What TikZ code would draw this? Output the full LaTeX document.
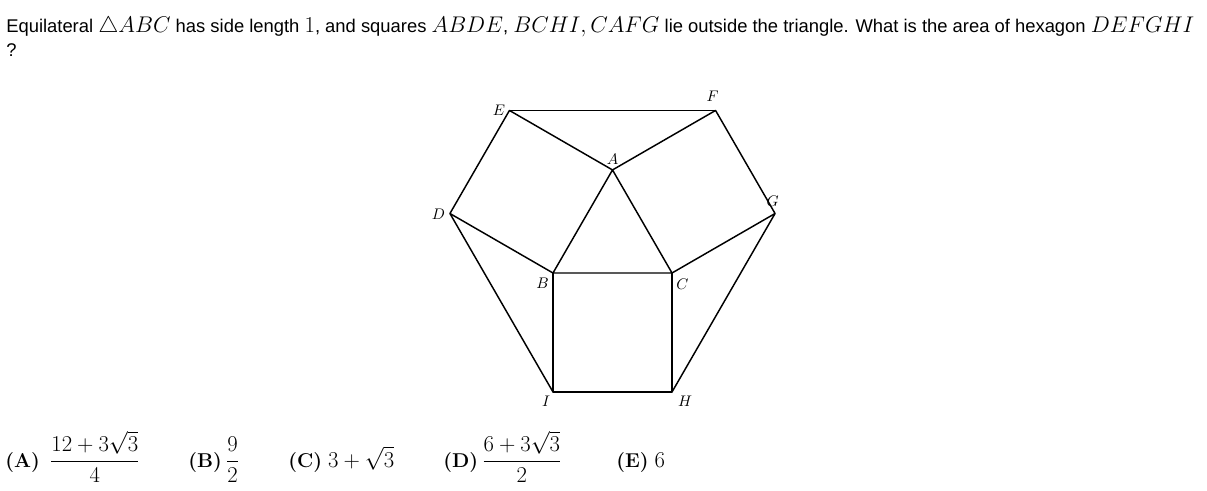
\RequirePackage{fix-cm}
\documentclass[tikz,border=0pt]{standalone}
\usepackage{amsmath,amssymb}
\usepackage{fontspec}
\usepackage{tikz}
\usetikzlibrary{calc, positioning}
\newfontfamily\qfont{Liberation Sans}
\newcommand{\qm}[1]{{\fontsize{17}{20}\selectfont$#1$}}
\tikzset{every node/.style={font=\normalfont}}

\begin{document}
\begin{tikzpicture}[x=0.75pt, y=0.75pt]
    % Define styles
    \tikzstyle{edge} = [line width=1.1pt, line join=round]
    \tikzstyle{lbl} = [inner sep=0pt, font=\fontsize{11.5}{13}\selectfont]
    \tikzstyle{textline} = [anchor=base west, inner sep=0pt, font=\qfont\fontsize{13.8}{16}\selectfont]
    \tikzstyle{choice} = [anchor=base west, inner sep=0pt, font=\fontsize{15}{18}\selectfont]

    \useasboundingbox (0,0) rectangle (1207,490);

    % Question text
    \node (question) [textline] at (6,457) {Equilateral \qm{\triangle ABC} has side length \qm{1}, and squares \qm{ABDE}, \qm{BCHI,CAFG} lie outside the triangle. What is the area of hexagon \qm{DEFGHI}};
    \node (qmark) [textline] at (6,433) {?};

    % Triangle and squares
    \coordinate (B) at (553,217);
    \coordinate (C) at (672,217);
    \coordinate (A) at ($(B)!1!60:(C)$);
    \coordinate (I) at ($(B)!1!-90:(C)$);
    \coordinate (H) at ($(C)!1!90:(B)$);
    \coordinate (D) at ($(B)!1!90:(A)$);
    \coordinate (E) at ($(A)!1!-90:(B)$);
    \coordinate (F) at ($(A)!1!90:(C)$);
    \coordinate (G) at ($(C)!1!-90:(A)$);

    \draw [edge] (A) -- (B) -- (C) -- cycle;
    \draw [edge] (A) -- (E) -- (D) -- (B);
    \draw [edge] (B) -- (I) -- (H) -- (C);
    \draw [edge] (C) -- (G) -- (F) -- (A);
    \draw [edge] (E) -- (F);
    \draw [edge] (G) -- (H);
    \draw [edge] (I) -- (D);

    % Vertex labels
    \node (lA) [lbl] at ($(A)+(0,11)$) {$A$};
    \node (lB) [lbl] at ($(B)+(-10.5,-10.5)$) {$B$};
    \node (lC) [lbl] at ($(C)+(10.5,-11)$) {$C$};
    \node (lD) [lbl] at ($(D)+(-11.5,-1)$) {$D$};
    \node (lE) [lbl] at ($(E)+(-10.5,0)$) {$E$};
    \node (lF) [lbl] at ($(F)+(-3,14)$) {$F$};
    \node (lG) [lbl] at ($(G)+(-2.5,12)$) {$G$};
    \node (lI) [lbl] at ($(I)+(-7,-9)$) {$I$};
    \node (lH) [lbl] at ($(H)+(13,-9)$) {$H$};

    % Answer choices
    \node (optA) [choice] at (5,23) {\textbf{(A)}\hspace{7.5pt}\qm{\dfrac{12+3\sqrt{3}}{4}}};
    \node (optB) [choice] at (188,23) {\textbf{(B)}\hspace{3pt}\qm{\dfrac{9}{2}}};
    \node (optC) [choice] at (288,23) {\textbf{(C)} \qm{3+\sqrt{3}}};
    \node (optD) [choice] at (443,23) {\textbf{(D)}\hspace{3pt}\qm{\dfrac{6+3\sqrt{3}}{2}}};
    \node (optE) [choice] at (616,23) {\textbf{(E)} \qm{6}};
\end{tikzpicture}
\end{document}
